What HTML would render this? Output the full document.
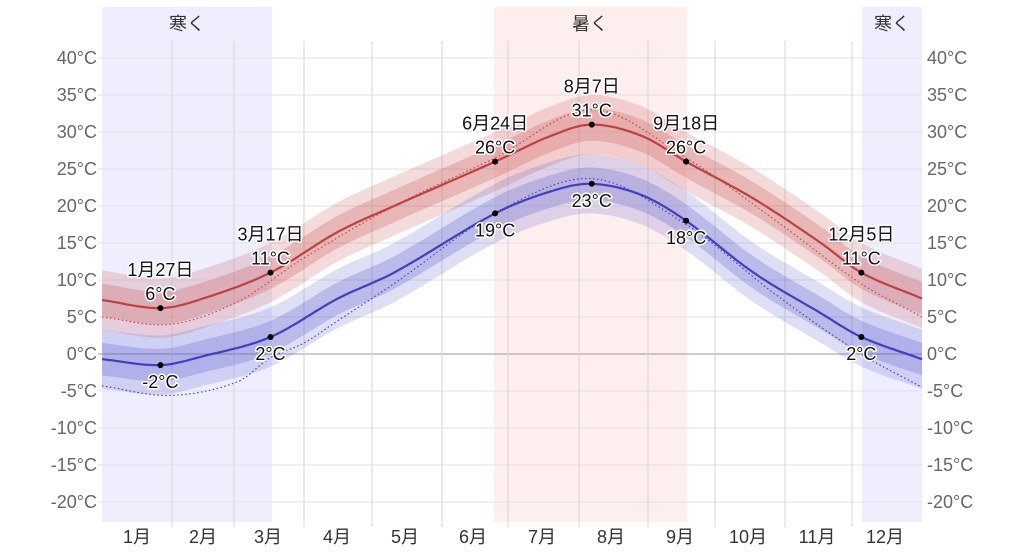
<!DOCTYPE html>
<html><head><meta charset="utf-8"><style>
body{margin:0;background:#fff;}
svg{display:block;font-family:"Liberation Sans","Noto Sans CJK JP",sans-serif;}
.yl{font-size:18px;fill:#666;}
.ml{font-size:18px;fill:#333;text-anchor:middle;}
.an{font-size:18px;fill:#111;text-anchor:middle;stroke:#fff;stroke-width:3px;paint-order:stroke;stroke-linejoin:round;}
</style></head><body>
<svg id="s" width="1024" height="553" viewBox="0 0 1024 553" xmlns="http://www.w3.org/2000/svg">
<rect x="102" y="7" width="170" height="515" fill="#eeeeff"/>
<rect x="494" y="7" width="193" height="515" fill="#ffeeee"/>
<rect x="862" y="7" width="60" height="515" fill="#eeeeff"/>
<text x="187" y="30" class="ml">寒く</text>
<text x="590" y="30" class="ml">暑く</text>
<text x="892" y="30" class="ml">寒く</text>
<g id="grid"></g>
<g id="data"></g>
<g id="ann"></g>
</svg>
<script>
var NS="http://www.w3.org/2000/svg";
function el(p,t,a,txt){var e=document.createElementNS(NS,t);for(var k in a)e.setAttribute(k,a[k]);if(txt!=null)e.textContent=txt;document.getElementById(p).appendChild(e);return e;}
function X(d){return 102+d*820/365;}
function Y(t){return 354-t*7.4;}
var g='grid';
for(var t=-20;t<=40;t+=5){var y=Y(t);
 el(g,'line',{x1:98,x2:922,y1:y,y2:y,stroke:t==0?'#999':'#e2e2e2','stroke-width':1});
 el(g,'text',{x:97,y:y+6,'text-anchor':'end','class':'yl'},t+'°C');
 el(g,'text',{x:927,y:y+6,'class':'yl'},t+'°C');}
[172,234,304,372,442,508,579,648,715,785,852].forEach(function(x){el(g,'line',{x1:x,x2:x,y1:41,y2:527,stroke:'#d6d6d6','stroke-width':1});});
var mx=[137,203,268,337,405,473,542,611,680,748,817,885];
mx.forEach(function(x,i){el(g,'text',{x:x,y:543,'class':'ml'},(i+1)+'月');});
function interp(pts){var out=[];for(var d=0;d<=365;d+=1){var i=0;while(i<pts.length-2&&pts[i+1][0]<d)i++;
 var p0=pts[Math.max(i-1,0)],p1=pts[i],p2=pts[i+1],p3=pts[Math.min(i+2,pts.length-1)];
 var u=(d-p1[0])/(p2[0]-p1[0]);var h=p2[0]-p1[0];
 var m1=(p2[1]-p0[1])/(p2[0]-p0[0])*h, m2=(p3[1]-p1[1])/(p3[0]-p1[0])*h;
 var u2=u*u,u3=u2*u;
 out.push((2*u3-3*u2+1)*p1[1]+(u3-2*u2+u)*m1+(-2*u3+3*u2)*p2[1]+(u3-u2)*m2);}return out;}
var hi=interp([[0,7.3],[26,6.2],[45,7.5],[75,11],[105,16.5],[130,20],[175,26],[200,29.5],[218,31],[240,29.5],[260,26],[290,21],[320,15],[338,11],[365,7.5]]);
var lo=interp([[0,-0.7],[26,-1.5],[45,-0.3],[75,2.3],[105,7.5],[130,11],[175,19],[200,22],[218,23],[240,21.5],[260,18],[290,11],[320,5.5],[338,2.3],[365,-0.7]]);
var hd=interp([[0,5],[30,4],[60,7],[90,13],[130,20],[175,26.5],[218,33],[260,26.5],[300,18],[338,9.5],[365,5]]);
var ld=interp([[0,-4.3],[30,-5.6],[60,-3.8],[75,-0.5],[90,1.5],[105,4.5],[130,9.5],[175,19],[218,23.7],[260,17.5],[300,8],[338,0],[365,-4.5]]);
function line(a,o){var s='';a.forEach(function(v,d){s+=(d?'L':'M')+X(d).toFixed(1)+','+Y(v+(o||0)).toFixed(1);});return s;}
function band(a,o1,o2){var s=line(a,o2);for(var d=365;d>=0;d--)s+='L'+X(d).toFixed(1)+','+Y(a[d]+o1).toFixed(1);return s+'Z';}
var D='data';
el(D,'path',{d:band(hi,-4,4),fill:'rgba(200,90,90,0.22)'});
el(D,'path',{d:band(hi,-2.2,2.2),fill:'rgba(200,90,90,0.28)'});
el(D,'path',{d:band(lo,-4,4),fill:'rgba(90,90,200,0.2)'});
el(D,'path',{d:band(lo,-2.2,2.2),fill:'rgba(90,90,200,0.26)'});
el(D,'path',{d:line(hd),fill:'none',stroke:'#c44','stroke-width':1.2,'stroke-dasharray':'1.5,2.5'});
el(D,'path',{d:line(ld),fill:'none',stroke:'#44c','stroke-width':1.2,'stroke-dasharray':'1.5,2.5'});
el(D,'path',{d:line(hi),fill:'none',stroke:'#c04040','stroke-width':2.2});
el(D,'path',{d:line(lo),fill:'none',stroke:'#4040c0','stroke-width':2.2});
var A='ann';
function dot(d,v){el(A,'circle',{cx:X(d),cy:Y(v),r:3,fill:'#000'});}
function above(d,v,date,lab){var x=X(d),y=Y(v);dot(d,v);el(A,'text',{x:x,y:y-8,'class':'an'},lab);el(A,'text',{x:x,y:y-32,'class':'an'},date);}
function below(d,v,lab){var x=X(d),y=Y(v);dot(d,v);el(A,'text',{x:x,y:y+23,'class':'an'},lab);}
above(26,hi[26],'1月27日','6°C');above(75,hi[75],'3月17日','11°C');above(175,hi[175],'6月24日','26°C');
above(218,hi[218],'8月7日','31°C');above(260,hi[260],'9月18日','26°C');above(338,hi[338],'12月5日','11°C');
below(26,lo[26],'-2°C');below(75,lo[75],'2°C');below(175,lo[175],'19°C');below(218,lo[218],'23°C');below(260,lo[260],'18°C');below(338,lo[338],'2°C');
</script>
</body></html>
